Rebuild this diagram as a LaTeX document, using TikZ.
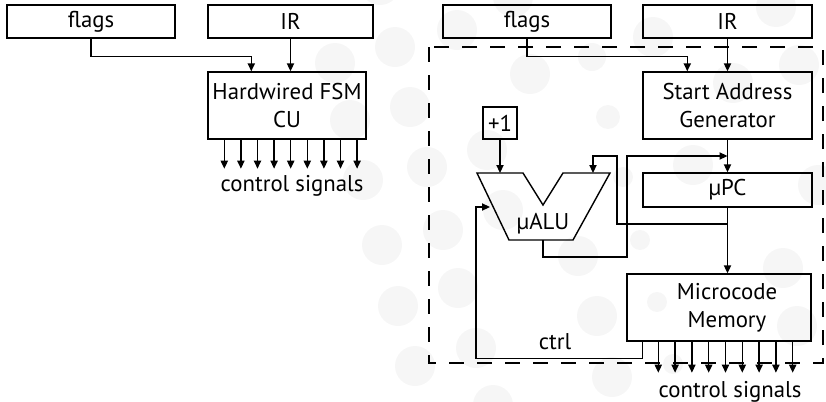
\documentclass[tikz,border=0pt]{standalone}
\usepackage{fontspec}
\setmainfont{PT Sans}
\usetikzlibrary{arrows.meta,calc}
\definecolor{dotgray}{RGB}{246,246,246}
\newcommand{\mc}{\symbol{"B5}}
\newcommand{\newBlock}[5]{\node[block,minimum width=#3,minimum height=#4](#1) at #5 {#2};}

\begin{document}
\begin{tikzpicture}[
    % Default arrow tip
    ->,>={Triangle[length=4pt,width=3.6pt]},
    % One unit is one pixel of the drawing
    x=0.5pt,y=-0.5pt,
    % Stroke thickness
    line width=0.7pt,
    block/.style={draw,rectangle,align=center,inner sep=0pt},
    font=\fontsize{11.4}{14}\selectfont
    ]
    \useasboundingbox (0,0) rectangle (826,402);

    % background dots
    \foreach \cx/\cy/\cr in {335/63/10,380/-15/10,395/47/10,410/107/10,350/120/10,
        427/167/10,363/180/10,457/30/10,487/150/10,530/74/10,513/-3/10,653/37/10,
        733/83/10,693/165/10,776/7/10,799/65/10,503/210/10,443/230/10,578/256/10,
        458/288/10,597/316/10,783/268/10,797/326/10,476/348/10,612/377/10,
        382/245/10,398/306/10,415/366/10,493/405/10,818/185/10,
        608/117/6,592/57/7,623/177/5,640/240/5,657/302/5,673/364/5}
        \fill[dotgray] (\cx,\cy) circle[radius=\cr pt];

    % hardwired control unit
    \newBlock{lflags}{flags}{84pt}{16.5pt}{(91,21.5)}
    \newBlock{lir}{IR}{82.5pt}{16.5pt}{(290.5,21.5)}
    \newBlock{fsm}{Hardwired FSM\\CU}{79pt}{33.5pt}{(287,105.5)}

    \draw (lflags.south) -- ++(0,18) -| ([xshift=22pt]fsm.north west);
    \draw (lir.south) -- (lir.south |- fsm.north);
    \foreach \i in {0,...,8}
        \draw ([xshift={8.5pt+\i*8.3pt}]fsm.south west) -- ++(0,29);
    \node (lsig) at (292,186) {control signals};

    % microprogrammed control unit
    \draw[-,dash pattern=on 7.5pt off 6.5pt] (429,47) rectangle (823,363);

    \newBlock{rflags}{flags}{84pt}{16.5pt}{(527,21.5)}
    \newBlock{rir}{IR}{84.5pt}{16.5pt}{(727.5,21.5)}
    \newBlock{sag}{Start Address\\Generator}{84.5pt}{33.5pt}{(727.5,105.5)}
    \newBlock{plus}{+1}{17pt}{16pt}{(500,123)}
    \newBlock{upc}{\mc PC}{84.5pt}{17pt}{(727.5,190)}
    \newBlock{mem}{\hspace*{8pt}Microcode\\\hspace*{8pt}Memory}{92pt}{33.5pt}{(719,307.5)}

    % micro ALU
    \draw[-] (477,173) -- (523,173) -- (543,205) -- (563,173) -- (610,173)
        -- (573,240) -- (509,240) -- cycle;
    \node (alu) at (543,224) {\mc ALU};
    \coordinate (alua) at (500,173);
    \coordinate (alub) at (593,173);
    \coordinate (aluo) at (543,240);
    \coordinate (alul) at (490,207);
    \coordinate (jn) at (727.5,224);
    \coordinate (mx) at (727.5,156);

    \draw (rflags.south) -- ++(0,18) -| ([xshift=22.5pt]sag.north west);
    \draw (rir) -- (sag);
    \draw (sag) -- (upc);
    \draw (plus.south) -- (alua);
    \draw (jn) -| (617,156) -| (alub);
    \draw (aluo) -- ++(0,17) -| (627,156) -- (mx);
    \draw (upc.south) -- (upc.south |- mem.north);
    \draw ([xshift=8pt]mem.south west) -- ++(0,17) -| (476,207) -- (alul);
    \node (ctrl) at (555,342) {ctrl};
    \foreach \i in {0,...,8}
        \draw ([xshift={16pt+\i*8.4pt}]mem.south west) -- ++(0,31);
    \node (rsig) at (730,392) {control signals};
\end{tikzpicture}
\end{document}
